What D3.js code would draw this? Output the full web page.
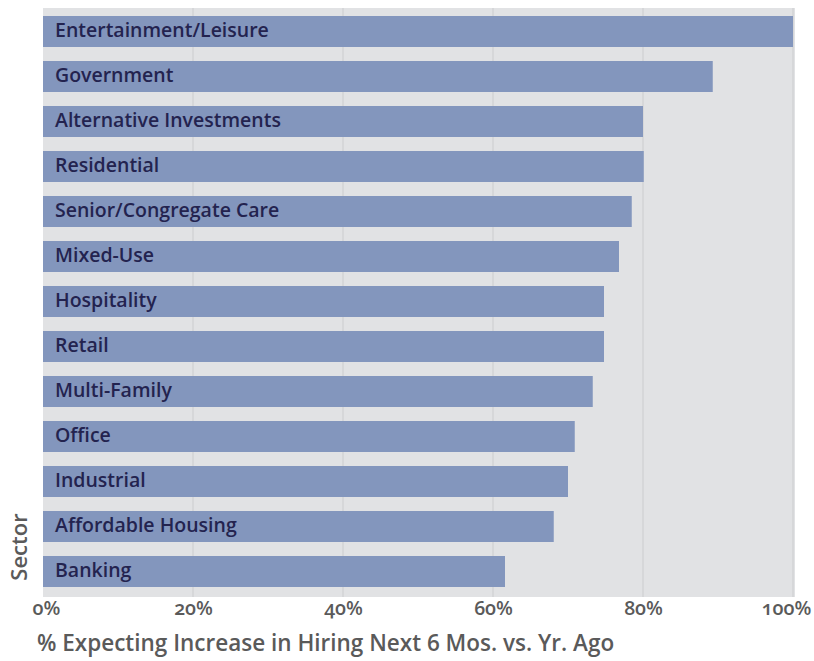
<!DOCTYPE html>
<html>
<head>
<meta charset="utf-8">
<script src="https://cdn.jsdelivr.net/npm/d3@7"></script>
<style>
  body { margin: 0; background: #fff; }
  svg text { font-family: "Open Sans", "Noto Sans", sans-serif; }
</style>
</head>
<body>
<script>
// sectors, top to bottom
const sectors = ["Entertainment/Leisure", "Government", "Alternative Investments", "Residential",
  "Senior/Congregate Care", "Mixed-Use", "Hospitality", "Retail", "Multi-Family", "Office",
  "Industrial", "Affordable Housing", "Banking"];
// % expecting increase in hiring
const values = [100, 89.3, 80, 80.1, 78.5, 76.8, 74.8, 74.8, 73.3, 70.9, 70, 68.1, 61.6];
const ticks = [0, 20, 40, 60, 80, 100];

const data = sectors.map((s, i) => ({ sector: s, value: values[i] }));

const w = 814, h = 661;
const left = 43, right = 793;
const plotTop = 8, plotBottom = 597;

const barColor = "#8396bd";
const bgColor = "#e1e2e4";
const gridColor = "#d2d3d6";
const labelColor = "#23234f";
const axisColor = "#5a5a5a";

const svg = d3.select("body").append("svg")
  .attr("width", w)
  .attr("height", h);

const x = d3.scaleLinear().domain([0, 100]).range([left, right]);
const y = d3.scaleBand()
  .domain(sectors)
  .range([9, 594])
  .paddingInner(14 / 45)
  .paddingOuter(7 / 45);

// grey plot background
svg.append("rect")
  .attr("x", left)
  .attr("y", plotTop)
  .attr("width", 795 - left)
  .attr("height", plotBottom - plotTop)
  .attr("fill", bgColor);

// vertical grid lines
svg.selectAll(".grid")
  .data(ticks.slice(1))
  .enter()
  .append("line")
  .attr("x1", d => x(d))
  .attr("x2", d => x(d))
  .attr("y1", plotTop)
  .attr("y2", plotBottom)
  .attr("stroke", gridColor)
  .attr("stroke-width", 1.5);

// bars
svg.selectAll(".bar")
  .data(data)
  .enter()
  .append("rect")
  .attr("x", x(0))
  .attr("y", d => y(d.sector))
  .attr("width", d => x(d.value) - x(0))
  .attr("height", y.bandwidth())
  .attr("fill", barColor);

// labels inside bars
svg.selectAll(".lbl")
  .data(data)
  .enter()
  .append("text")
  .attr("x", x(0) + 12)
  .attr("y", d => y(d.sector) + y.bandwidth() / 2 + 5.5)
  .attr("fill", labelColor)
  .style("font-size", "19.5px")
  .style("font-weight", 600)
  .text(d => d.sector);

// x axis tick labels
const xAxis = d3.axisBottom(x)
  .tickValues(ticks)
  .tickSize(0)
  .tickPadding(0)
  .tickFormat(d => d + "%");

const gx = svg.append("g")
  .attr("transform", `translate(0, ${plotBottom})`)
  .call(xAxis);
gx.select(".domain").remove();
gx.selectAll("text")
  .attr("y", 18)
  .attr("dy", 0)
  .attr("fill", axisColor)
  .style("font-size", "19.5px")
  .style("font-weight", 600)
  .style("font-family", "\"Open Sans\", sans-serif")
  .style("font-variant-numeric", "oldstyle-nums");
gx.selectAll(".tick")
  .filter(d => d === 0).select("text").attr("dx", 3);
gx.selectAll(".tick")
  .filter(d => d === 100).select("text").attr("dx", -7);

// axis titles
svg.append("text")
  .attr("x", 37)
  .attr("y", 651)
  .attr("fill", axisColor)
  .style("font-size", "22.5px")
  .style("font-weight", 600)
  .text("% Expecting Increase in Hiring Next 6 Mos. vs. Yr. Ago");

svg.append("text")
  .attr("transform", "translate(27, 547) rotate(-90)")
  .attr("text-anchor", "middle")
  .attr("fill", axisColor)
  .style("font-size", "22px")
  .style("font-weight", 600)
  .text("Sector");
</script>
</body>
</html>
